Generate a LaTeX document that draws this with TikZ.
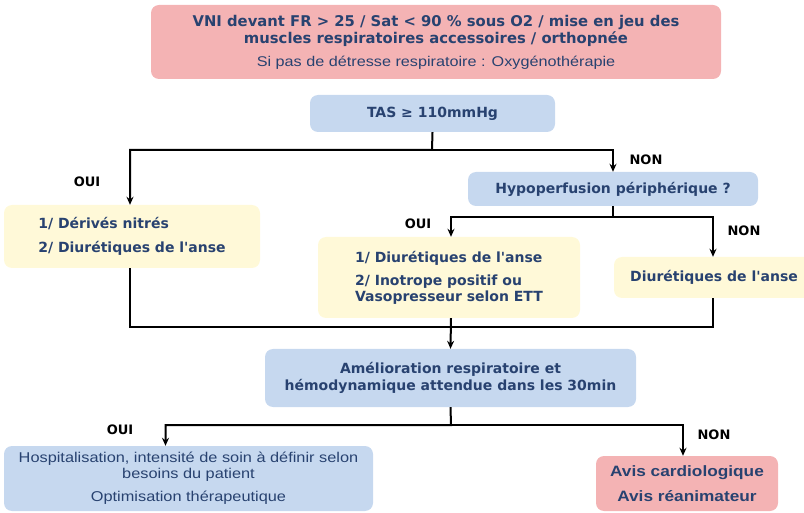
\documentclass[tikz,border=0pt]{standalone}
\usepackage{fontspec}
\setmainfont{DejaVu Sans}
\newfontfamily\narrowfont[FakeStretch=1.15]{Liberation Sans}
\usetikzlibrary{arrows.meta}

\definecolor{boxpink}{RGB}{244,179,180}
\definecolor{boxblue}{RGB}{198,216,239}
\definecolor{boxyellow}{RGB}{255,249,216}
\definecolor{txtblue}{RGB}{40,66,112}

\newcommand{\apos}{\textquotesingle}

\tikzset{
	box/.style={rounded corners=8pt,inner sep=2pt,text=txtblue,font=\fontsize{14}{16.5}\selectfont\bfseries},
	pinkbox/.style={box,fill=boxpink},
	bluebox/.style={box,fill=boxblue},
	yellowbox/.style={box,fill=boxyellow},
	ln/.style={line width=2pt},
	arr/.style={ln,-{Stealth[length=8pt,width=7pt]}},
	lbl/.style={font=\fontsize{13}{15}\selectfont\bfseries}
}

\begin{document}
\begin{tikzpicture}[x=1pt,y=-1pt]
	\useasboundingbox (0,0) rectangle (804,513);

	% boxes
	\node[pinkbox,minimum width=570pt,minimum height=74pt,align=center,font=\fontsize{14.8}{17}\selectfont\bfseries] (vni) at (436,42)
		{VNI devant FR > 25 / Sat < 90 \% sous O2 / mise en jeu des\\
		muscles respiratoires accessoires / orthopnée\\[6pt]
		{\narrowfont\mdseries\fontsize{14.1}{17}\selectfont Si pas de détresse respiratoire : Oxygénothérapie}};
	\node[bluebox,minimum width=245pt,minimum height=37pt] (tas) at (432.5,113.5) {TAS ≥ 110mmHg};
	\node[bluebox,minimum width=290pt,minimum height=34pt] (hypo) at (613,189) {Hypoperfusion périphérique ?};
	\node[yellowbox,minimum width=256pt,minimum height=63pt,align=left] (nitre) at (132,236.5)
		{1/ Dérivés nitrés\\[7pt] 2/ Diurétiques de l\apos anse};
	\node[yellowbox,minimum width=262pt,minimum height=81pt,align=left] (ino) at (449,277.5)
		{1/ Diurétiques de l\apos anse\\[7pt] 2/ Inotrope positif ou\\[-1pt] Vasopresseur selon ETT};
	\node[yellowbox,minimum width=200pt,minimum height=41pt] (diur) at (714,277.5) {Diurétiques de l\apos anse};
	\node[bluebox,minimum width=371pt,minimum height=58pt,align=center] (amel) at (450.5,378)
		{Amélioration respiratoire et\\ hémodynamique attendue dans les 30min};
	\node[bluebox,minimum width=369pt,minimum height=65pt,align=center,font=\narrowfont\fontsize{14.2}{16}\selectfont] (hosp) at (188.5,478.5)
		{Hospitalisation, intensité de soin à définir selon\\ besoins du patient\\[7pt] Optimisation thérapeutique};
	\node[pinkbox,minimum width=182pt,minimum height=55pt,align=center,font=\narrowfont\bfseries\fontsize{15}{17}\selectfont] (avis) at (687,483.5)
		{Avis cardiologique\\[8pt] Avis réanimateur};

	% split points
	\coordinate (s1) at (432,150);
	\coordinate (s2) at (613,217);
	\coordinate (j1) at (451,327);
	\coordinate (s3) at (451,425);

	% connectors
	\draw[arr] (tas.south) -- (s1) -| ([xshift=-2pt]nitre.north);
	\draw[arr] (s1) -| (hypo.north);
	\draw[arr] (hypo.south) -- (s2) -| ([xshift=2pt]ino.north);
	\draw[arr] (s2) -| ([xshift=-1pt]diur.north);
	\draw[ln] ([xshift=-2pt]nitre.south) |- (j1) -| ([xshift=-1pt]diur.south);
	\draw[arr] ([xshift=2pt]ino.south) -- (amel.north);
	\draw[arr] (amel.south) -- (s3) -| ([xshift=-23pt]hosp.north);
	\draw[arr] (s3) -| ([xshift=-4pt]avis.north);

	% labels
	\node[lbl] (oui1) at (87,182) {OUI};
	\node[lbl] (non1) at (646,160) {NON};
	\node[lbl] (oui2) at (418,224) {OUI};
	\node[lbl] (non2) at (744,231) {NON};
	\node[lbl] (oui3) at (120,430) {OUI};
	\node[lbl] (non3) at (714,435) {NON};
\end{tikzpicture}
\end{document}
